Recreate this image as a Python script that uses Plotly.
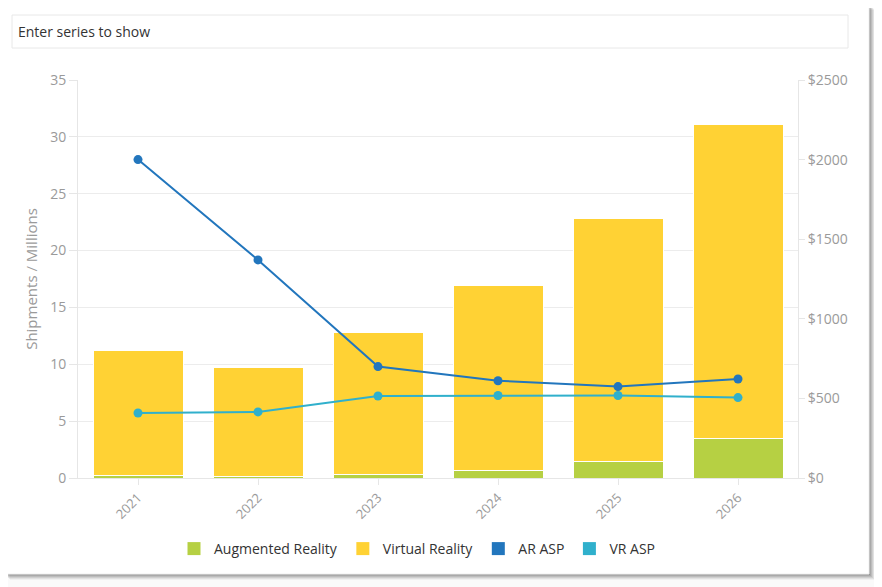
import plotly.graph_objects as go

years = ["2021", "2022", "2023", "2024", "2025", "2026"]
ar_shipments = [0.22, 0.17, 0.33, 0.70, 1.43, 3.46]
total_shipments = [11.17, 9.70, 12.81, 16.97, 22.80, 31.13]
vr_shipments = [round(t - a, 2) for t, a in zip(total_shipments, ar_shipments)]
ar_asp = [2000, 1370, 700, 611, 574, 622]
vr_asp = [408, 415, 515, 518, 518, 505]

# The page body has an 8px margin, so the figure is drawn 8px smaller and
# all reference pixel positions are shifted by that offset.
OFF = 8
W, H = 882 - OFF, 587 - OFF
L, R, T, B = 78 - OFF, 798 - OFF, 80 - OFF, 478 - OFF  # plot area (figure px)

def px(x):
    return (x - OFF - L) / (R - L)

def py(y):
    return (B - (y - OFF)) / (B - T)

GREEN = "#B6D043"
YELLOW = "#FFD234"
BLUE = "#2276BD"
CYAN = "#30B0CC"
GRID = "#ececec"
TICKC = "#9a9a9a"
FONT = "Open Sans"

fig = go.Figure()
fig.add_trace(go.Bar(x=years, y=ar_shipments, name="Augmented Reality",
                     marker=dict(color=GREEN, line=dict(color="white", width=1)),
                     showlegend=False))
fig.add_trace(go.Bar(x=years, y=vr_shipments, name="Virtual Reality",
                     marker=dict(color=YELLOW, line=dict(color="white", width=1)),
                     showlegend=False))
fig.add_trace(go.Scatter(x=years, y=ar_asp, name="AR ASP", yaxis="y2",
                         mode="lines+markers", line=dict(color=BLUE, width=2),
                         marker=dict(size=9, color=BLUE), showlegend=False))
fig.add_trace(go.Scatter(x=years, y=vr_asp, name="VR ASP", yaxis="y2",
                         mode="lines+markers", line=dict(color=CYAN, width=2),
                         marker=dict(size=9, color=CYAN), showlegend=False))

# legend entries as square swatches
for nm, col in [("Augmented Reality", GREEN), ("Virtual Reality", YELLOW),
                ("AR ASP", BLUE), ("VR ASP", CYAN)]:
    fig.add_trace(go.Scatter(x=[None], y=[None], name=nm, mode="markers",
                             marker=dict(symbol="square", size=13, color=col),
                             showlegend=True))

shapes = []
# card shadow
for i, op in enumerate([0.10, 0.10, 0.09, 0.08, 0.06, 0.04]):
    off = i + 1
    shapes.append(dict(type="rect", xref="paper", yref="paper", layer="below",
                       x0=px(4 + off), x1=px(869 + off),
                       y0=py(574 + off), y1=py(4 + off),
                       fillcolor=f"rgba(0,0,0,{op})", line=dict(width=0)))
# card
shapes.append(dict(type="rect", xref="paper", yref="paper", layer="below",
                   x0=px(4), x1=px(869), y0=py(574), y1=py(4),
                   fillcolor="white", line=dict(color="#f0f0f0", width=1)))
# input box
shapes.append(dict(type="rect", xref="paper", yref="paper", layer="below",
                   x0=px(12), x1=px(848), y0=py(48), y1=py(15),
                   fillcolor="white", line=dict(color="#e8e8e8", width=1)))

fig.update_layout(
    width=W, height=H,
    margin=dict(l=L, r=W - R, t=T, b=H - B, pad=0),
    paper_bgcolor="#fafafa", plot_bgcolor="white",
    barmode="stack", bargap=0.25,
    font=dict(family=FONT, color=TICKC, size=13),
    shapes=shapes,
    annotations=[dict(text="Enter series to show", xref="paper", yref="paper",
                      x=px(16), y=py(32), xanchor="left", yanchor="middle",
                      showarrow=False, font=dict(family=FONT, size=14, color="#333333"))],
    xaxis=dict(type="category", tickangle=-45, showgrid=False,
               showline=True, linecolor="#e6e6e6", linewidth=1,
               ticks="outside", ticklen=6, tickcolor="#e6e6e6",
               tickfont=dict(size=13, color=TICKC)),
    yaxis=dict(range=[0, 35], dtick=5, showgrid=True, gridcolor=GRID,
               showline=True, linecolor="#e6e6e6", zeroline=False,
               ticks="outside", ticklen=8, tickcolor="#e6e6e6",
               tickfont=dict(size=14, color=TICKC),
               title=dict(text="Shipments / Millions", font=dict(size=15, color=TICKC), standoff=8)),
    yaxis2=dict(range=[0, 2500], dtick=500, overlaying="y", side="right",
                showgrid=False, showline=True, linecolor="#e6e6e6", zeroline=False,
                ticks="outside", ticklen=6, tickcolor="#e6e6e6",
                tickprefix="$", tickfont=dict(size=14, color=TICKC)),
    legend=dict(orientation="h", x=px(174), y=py(549), xanchor="left", yanchor="middle",
                font=dict(size=14, color="#333333"), itemwidth=30,
                traceorder="normal",
                bgcolor="rgba(0,0,0,0)", tracegroupgap=0),
)

fig.write_html("out.html")
